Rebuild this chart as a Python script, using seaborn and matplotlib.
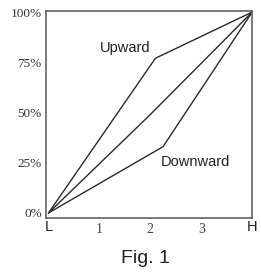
import matplotlib
matplotlib.use('Agg')
import matplotlib.pyplot as plt
import pandas as pd
import seaborn as sns

# values
up_x = [0, 2.1, 4]
up_y = [0, 77, 100]
mid_x = [0, 2, 4]
mid_y = [0, 49, 100]
down_x = [0, 2.25, 4]
down_y = [0, 33, 100]
x_ticks = [0, 1, 2, 3, 4]
x_labels = ['L', '1', '2', '3', 'H']
y_ticks = [0, 25, 50, 75, 100]
y_labels = ['0%', '25%', '50%', '75%', '100%']

rows = []
for name, xs, ys in [('Upward', up_x, up_y), ('Middle', mid_x, mid_y), ('Downward', down_x, down_y)]:
    for a, b in zip(xs, ys):
        rows.append((name, a, b))
df = pd.DataFrame(rows, columns=['curve', 'x', 'y'])

sns.set_style('white')
fig = plt.figure(figsize=(2.61, 2.77), dpi=100)
ax = fig.add_axes([0.176, 0.213, 0.790, 0.747])

sns.lineplot(data=df, x='x', y='y', hue='curve', units='curve', estimator=None,
             sort=False, palette=['#2a2a2a'] * 3, linewidth=1.0, legend=False, ax=ax)

ax.set_xlim(-0.05, 4)
ax.set_ylim(-2.5, 100.5)
ax.set_xlabel('')
ax.set_ylabel('')
ax.set_xticks(x_ticks)
ax.set_xticklabels(x_labels)
ax.set_yticks(y_ticks)
ax.set_yticklabels(y_labels, family='Liberation Serif', fontsize=9.5, color='#333333')
ax.tick_params(axis='both', length=0)
ax.tick_params(axis='y', pad=3)
ax.tick_params(axis='x', pad=1.5)
for lab in ax.get_xticklabels():
    if lab.get_text() in ('L', 'H'):
        lab.set_family('Liberation Sans')
        lab.set_fontsize(10.5)
        lab.set_color('#222222')
    else:
        lab.set_family('Liberation Serif')
        lab.set_fontsize(10)
        lab.set_color('#444444')
        lab.set_y(-0.012)

for s in ax.spines.values():
    s.set_color('#555555')
    s.set_linewidth(1.1)

ax.text(1.51, 82, 'Upward', family='Liberation Sans', fontsize=10.5,
        color='#222222', ha='center', va='center')
ax.text(2.88, 25.5, 'Downward', family='Liberation Sans', fontsize=10.5,
        color='#222222', ha='center', va='center')
fig.text(0.556, 0.066, 'Fig. 1', family='Liberation Sans', fontsize=14,
         color='#222222', ha='center', va='center')

fig.savefig('out.png', dpi=100)
